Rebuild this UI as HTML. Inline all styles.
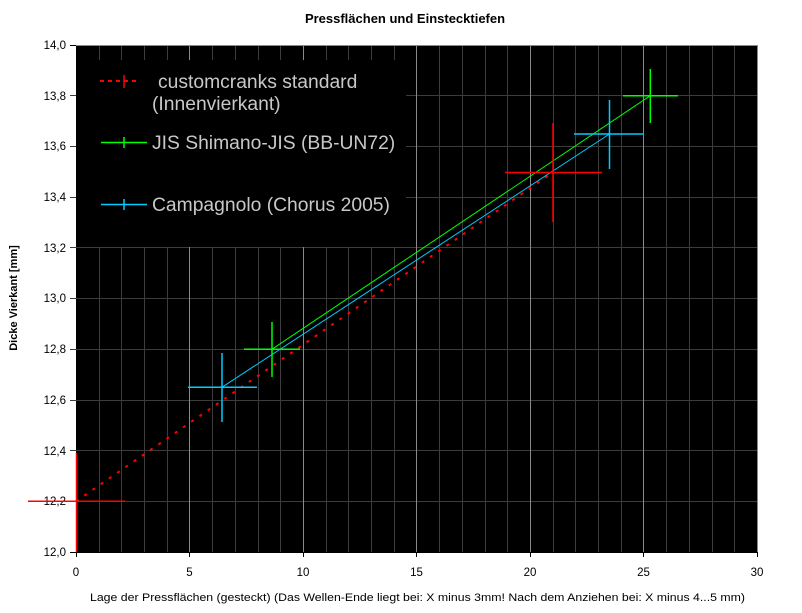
<!DOCTYPE html>
<html><head><meta charset="utf-8"><style>
body{margin:0;background:#fff;}
svg{display:block;font-family:"Liberation Sans",Arial,sans-serif;}
</style></head><body>
<svg width="802" height="613" viewBox="0 0 802 613" xmlns="http://www.w3.org/2000/svg">
<rect x="76" y="45" width="681" height="507" fill="#000"/>
<g stroke-width="1" shape-rendering="crispEdges">
<g stroke="#3c3c3c">
<line x1="99.5" y1="45" x2="99.5" y2="552"/><line x1="121.5" y1="45" x2="121.5" y2="552"/><line x1="144.5" y1="45" x2="144.5" y2="552"/><line x1="167.5" y1="45" x2="167.5" y2="552"/>
<line x1="212.5" y1="45" x2="212.5" y2="552"/><line x1="235.5" y1="45" x2="235.5" y2="552"/><line x1="258.5" y1="45" x2="258.5" y2="552"/><line x1="280.5" y1="45" x2="280.5" y2="552"/>
<line x1="326.5" y1="45" x2="326.5" y2="552"/><line x1="348.5" y1="45" x2="348.5" y2="552"/><line x1="371.5" y1="45" x2="371.5" y2="552"/><line x1="394.5" y1="45" x2="394.5" y2="552"/>
<line x1="439.5" y1="45" x2="439.5" y2="552"/><line x1="462.5" y1="45" x2="462.5" y2="552"/><line x1="485.5" y1="45" x2="485.5" y2="552"/><line x1="507.5" y1="45" x2="507.5" y2="552"/>
<line x1="553.5" y1="45" x2="553.5" y2="552"/><line x1="575.5" y1="45" x2="575.5" y2="552"/><line x1="598.5" y1="45" x2="598.5" y2="552"/><line x1="621.5" y1="45" x2="621.5" y2="552"/>
<line x1="666.5" y1="45" x2="666.5" y2="552"/><line x1="689.5" y1="45" x2="689.5" y2="552"/><line x1="712.5" y1="45" x2="712.5" y2="552"/><line x1="734.5" y1="45" x2="734.5" y2="552"/>
<line x1="70" y1="501.5" x2="757" y2="501.5"/><line x1="70" y1="450.5" x2="757" y2="450.5"/><line x1="70" y1="400.5" x2="757" y2="400.5"/><line x1="70" y1="349.5" x2="757" y2="349.5"/><line x1="70" y1="298.5" x2="757" y2="298.5"/><line x1="70" y1="247.5" x2="757" y2="247.5"/><line x1="70" y1="197.5" x2="757" y2="197.5"/><line x1="70" y1="146.5" x2="757" y2="146.5"/><line x1="70" y1="95.5" x2="757" y2="95.5"/>
</g>
<g stroke="#8a8a8a">
<line x1="189.5" y1="45" x2="189.5" y2="552"/><line x1="303.5" y1="45" x2="303.5" y2="552"/><line x1="416.5" y1="45" x2="416.5" y2="552"/><line x1="530.5" y1="45" x2="530.5" y2="552"/><line x1="643.5" y1="45" x2="643.5" y2="552"/>
</g>
<rect x="76" y="60" width="330" height="187" fill="#000"/>
<line x1="76" y1="45.5" x2="757" y2="45.5" stroke="#8a8a8a"/>
<line x1="757.5" y1="45" x2="757.5" y2="552" stroke="#8a8a8a"/>
<line x1="70" y1="45.5" x2="76" y2="45.5" stroke="#000"/>
<g stroke="#000">
<line x1="70" y1="552.5" x2="757" y2="552.5"/>
<line x1="76.5" y1="552" x2="76.5" y2="557"/><line x1="189.5" y1="552" x2="189.5" y2="557"/><line x1="303.5" y1="552" x2="303.5" y2="557"/><line x1="416.5" y1="552" x2="416.5" y2="557"/><line x1="530.5" y1="552" x2="530.5" y2="557"/><line x1="643.5" y1="552" x2="643.5" y2="557"/><line x1="757.5" y1="552" x2="757.5" y2="557"/>
</g>
</g>
<g font-size="11.5" text-anchor="end" fill="#000">
<text x="66" y="556">12,0</text><text x="66" y="505">12,2</text><text x="66" y="455">12,4</text><text x="66" y="404">12,6</text><text x="66" y="353">12,8</text><text x="66" y="302">13,0</text><text x="66" y="252">13,2</text><text x="66" y="201">13,4</text><text x="66" y="150">13,6</text><text x="66" y="100">13,8</text><text x="66" y="49">14,0</text>
</g>
<g font-size="11.5" text-anchor="middle" fill="#000">
<text x="76" y="576">0</text><text x="189.5" y="576">5</text><text x="303" y="576">10</text><text x="416.5" y="576">15</text><text x="530" y="576">20</text><text x="643.5" y="576">25</text><text x="757" y="576">30</text>
</g>
<text x="405" y="23" font-size="13" font-weight="bold" text-anchor="middle">Pressflächen und Einstecktiefen</text>
<text x="90" y="601" font-size="11" textLength="655" lengthAdjust="spacingAndGlyphs">Lage der Pressflächen (gesteckt) (Das Wellen-Ende liegt bei: X minus 3mm!   Nach dem Anziehen bei: X minus 4...5 mm)</text>
<text transform="translate(17,298) rotate(-90)" font-size="11" font-weight="bold" text-anchor="middle">Dicke Vierkant [mm]</text>
<g fill="none">
<line x1="76" y1="501.3" x2="552.7" y2="172.5" stroke="#ff0000" stroke-width="2" stroke-dasharray="3 7"/>
<line x1="272" y1="349.2" x2="650.3" y2="95.7" stroke="#00ff00" stroke-width="1"/>
<line x1="222" y1="387.2" x2="609.5" y2="134" stroke="#00ccff" stroke-width="1"/>
<g stroke="#ff0000" stroke-width="1.5">
<line x1="28" y1="501.3" x2="125" y2="501.3"/><line x1="76.5" y1="552" x2="76.5" y2="453"/>
<line x1="505" y1="172.5" x2="602" y2="172.5"/><line x1="553" y1="123" x2="553" y2="222"/>
</g>
<g stroke="#00ff00" stroke-width="1.5">
<line x1="244" y1="349.2" x2="300" y2="349.2"/><line x1="272" y1="322" x2="272" y2="377"/>
<line x1="623" y1="95.7" x2="678" y2="95.7"/><line x1="650.3" y1="69" x2="650.3" y2="123"/>
</g>
<g stroke="#00ccff" stroke-width="1.5">
<line x1="188" y1="387.2" x2="257" y2="387.2"/><line x1="222" y1="353" x2="222" y2="422"/>
<line x1="574" y1="134" x2="643" y2="134"/><line x1="609.5" y1="100" x2="609.5" y2="169"/>
</g>
</g>
<g font-size="19.3" fill="#c8c8c8">
<line x1="100" y1="81" x2="140" y2="81" stroke="#ff0000" stroke-width="2" stroke-dasharray="4 4"/>
<line x1="124" y1="75" x2="124" y2="88" stroke="#ff0000" stroke-width="1.5"/>
<text x="158" y="88">customcranks standard</text>
<text x="152" y="110">(Innenvierkant)</text>
<line x1="101" y1="142.5" x2="147" y2="142.5" stroke="#00ff00" stroke-width="1.5"/>
<line x1="124" y1="137" x2="124" y2="148" stroke="#00ff00" stroke-width="1.5"/>
<text x="152" y="149">JIS Shimano-JIS (BB-UN72)</text>
<line x1="101" y1="204.5" x2="147" y2="204.5" stroke="#00ccff" stroke-width="1.5"/>
<line x1="124" y1="199" x2="124" y2="210" stroke="#00ccff" stroke-width="1.5"/>
<text x="152" y="211">Campagnolo (Chorus 2005)</text>
</g>
</svg>
</body></html>
